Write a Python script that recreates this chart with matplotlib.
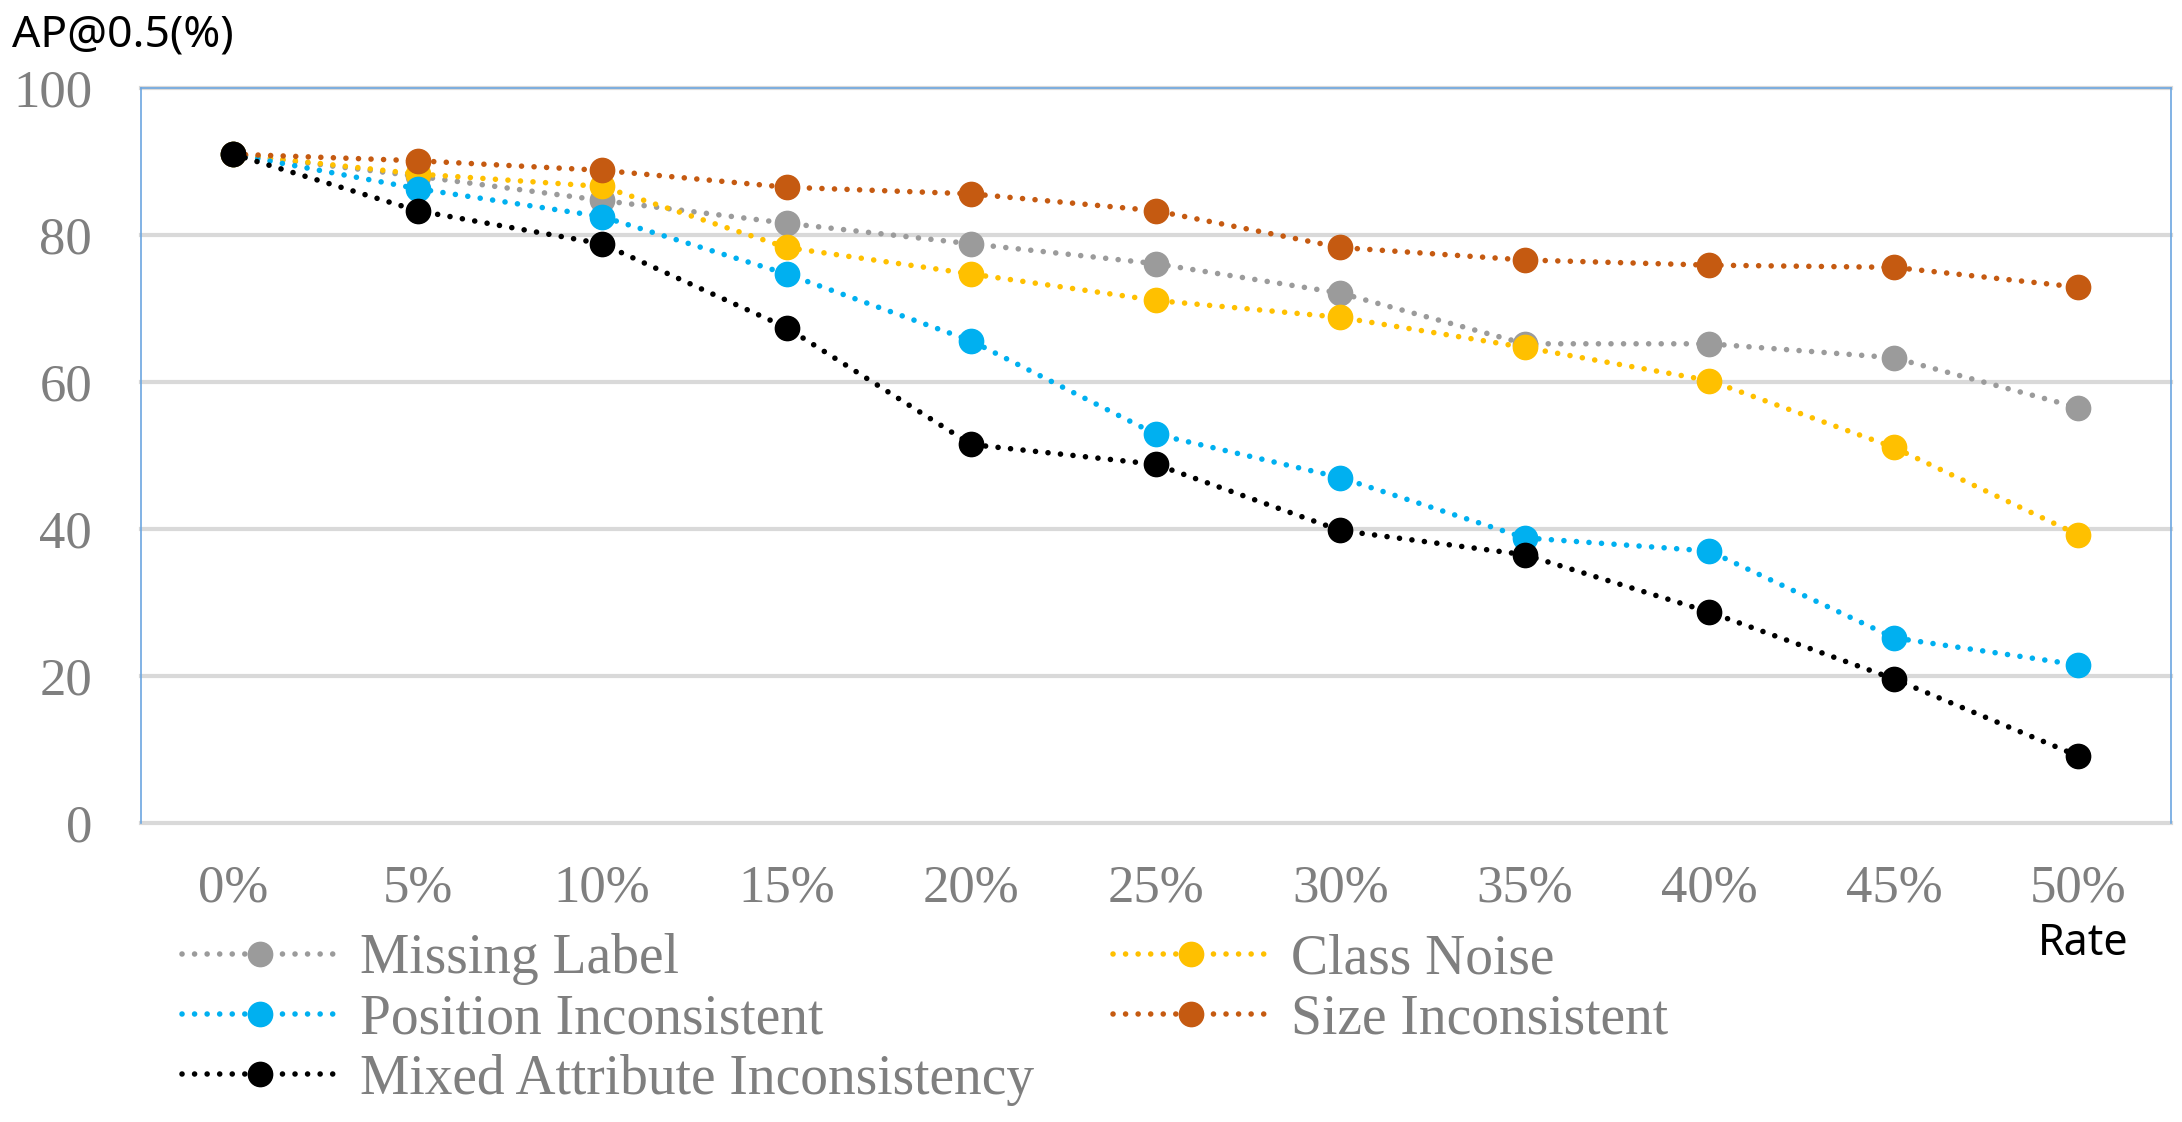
import numpy as np
import matplotlib
matplotlib.use('Agg')
import matplotlib.pyplot as plt

# 数据
rates = ['0%', '5%', '10%', '15%', '20%', '25%', '30%', '35%', '40%', '45%', '50%']
missing_label = [91, 88, 84.7, 81.6, 78.8, 76.1, 72.1, 65.2, 65.2, 63.3, 56.5]
class_noise = [91, 88.3, 86.6, 78.3, 74.7, 71.1, 68.8, 64.7, 60.2, 51.1, 39.2]
position_inc = [91, 86.3, 82.5, 74.7, 65.6, 52.9, 47.0, 38.8, 37.0, 25.2, 21.5]
size_inc = [91, 90.1, 88.8, 86.5, 85.6, 83.3, 78.3, 76.6, 75.9, 75.6, 72.9]
mixed_inc = [91, 83.3, 78.8, 67.4, 51.5, 48.8, 39.8, 36.5, 28.7, 19.6, 9.1]
y_ticks = [0, 20, 40, 60, 80, 100]

series = [
    ('Missing Label', missing_label, '#9B9B9B'),
    ('Class Noise', class_noise, '#FFC000'),
    ('Position Inconsistent', position_inc, '#00B0F0'),
    ('Size Inconsistent', size_inc, '#C55A11'),
    ('Mixed Attribute Inconsistency', mixed_inc, '#000000'),
]

serif = ['Liberation Serif', 'DejaVu Serif']
sans = ['Noto Sans', 'DejaVu Sans']
tick_color = '#7F7F7F'
border_color = '#6CA6E0'

fig = plt.figure(figsize=(21.82, 11.22), dpi=100)
ax = fig.add_axes([140.7 / 2182, 1 - 823 / 1122, 2030 / 2182, 735 / 1122])

x = np.arange(len(rates))
lines = {}
for name, vals, col in series:
    ln, = ax.plot(x, vals, color=col, lw=4, linestyle=(0, (0.01, 2.25)),
                  dash_capstyle='round', marker='o', ms=17.5, mec=col, mfc=col,
                  label=name, clip_on=False, zorder=3)
    lines[name] = ln

ax.set_xlim(-0.5, len(rates) - 0.5)
ax.set_ylim(0, 100)
ax.set_xticks(x)
ax.set_xticklabels(rates)
ax.set_yticks(y_ticks)
ax.tick_params(axis='both', length=0, labelsize=38, labelcolor=tick_color)
ax.tick_params(axis='x', pad=30)
ax.tick_params(axis='y', pad=35)
for lab in ax.get_xticklabels() + ax.get_yticklabels():
    lab.set_family(serif)

ax.yaxis.grid(True, color='#D9D9D9', lw=3)
ax.set_axisbelow(True)
for gl in ax.get_ygridlines():
    gl.set_clip_on(False)

for s in ['left', 'right', 'top']:
    ax.spines[s].set_color(border_color)
    ax.spines[s].set_linewidth(1.2)
ax.spines['bottom'].set_visible(False)

fig.text(12 / 2182, 1 - 47 / 1122, 'AP@0.5(%)', fontsize=32, family=sans,
         color='black', ha='left', va='baseline')
fig.text(2083 / 2182, 1 - 955 / 1122, 'Rate', fontsize=31, family=sans,
         color='black', ha='center', va='baseline')

# 图例：两列，按列填充
order = ['Missing Label', 'Position Inconsistent', 'Mixed Attribute Inconsistency',
         'Class Noise', 'Size Inconsistent']
leg = fig.legend([lines[n] for n in order], order, loc='upper left',
                 bbox_to_anchor=(182 / 2182, 1 - 933 / 1122), ncol=2,
                 frameon=False, borderpad=0, borderaxespad=0,
                 handlelength=2.8, handletextpad=0.4, columnspacing=1.42,
                 labelspacing=0.15, prop={'family': serif, 'size': 40})
for t in leg.get_texts():
    t.set_color(tick_color)

fig.savefig('out.png', dpi=100)
